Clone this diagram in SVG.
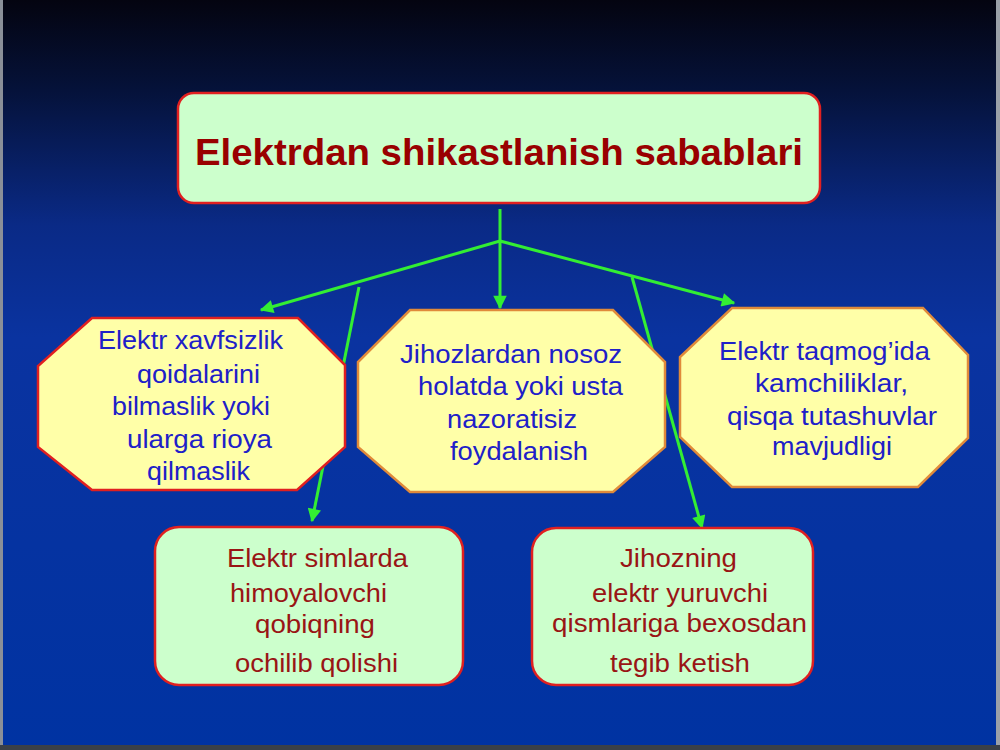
<svg xmlns="http://www.w3.org/2000/svg" width="1000" height="750" viewBox="0 0 1000 750">
  <defs>
    <linearGradient id="bg" x1="0" y1="0" x2="0" y2="1">
      <stop offset="0" stop-color="#040410"/>
      <stop offset="0.12" stop-color="#05123a"/>
      <stop offset="0.3" stop-color="#0a2a86"/>
      <stop offset="0.45" stop-color="#0a33a0"/>
      <stop offset="1" stop-color="#0033a2"/>
    </linearGradient>
    <marker id="arr" viewBox="0 0 10 10" refX="9" refY="5" markerWidth="5" markerHeight="4.5" orient="auto" markerUnits="strokeWidth">
      <path d="M0,0 L10,5 L0,10 z" fill="#33ee33"/>
    </marker>
    <style>
      .conn { stroke: #33ee33; stroke-width: 3; fill: none; }
      .green { fill: #ccffcc; stroke: #e02020; stroke-width: 2.5; }
      .oct { fill: #ffffa8; stroke-width: 2.5; }
      .blue { font-family: "Liberation Sans", Arial, sans-serif; font-size: 26px; fill: #2020c8; }
      .red { font-family: "Liberation Sans", Arial, sans-serif; font-size: 26px; fill: #991515; }
      .title { font-family: "Liberation Sans", Arial, sans-serif; font-size: 37px; font-weight: bold; fill: #990000; }
    </style>
  </defs>

  <rect x="0" y="0" width="1000" height="750" fill="url(#bg)"/>
  <rect x="0" y="0" width="3" height="750" fill="#8a8f98"/>
  <rect x="996" y="0" width="4" height="750" fill="#9aa0a8"/>
  <rect x="0" y="745" width="1000" height="5" fill="#3a4048"/>

  <g id="connectors">
    <line class="conn" x1="500" y1="209" x2="500" y2="241"/>
    <line class="conn" x1="500" y1="241" x2="500" y2="308" marker-end="url(#arr)"/>
    <line class="conn" x1="500" y1="241" x2="261" y2="310" marker-end="url(#arr)"/>
    <line class="conn" x1="500" y1="241" x2="734" y2="303" marker-end="url(#arr)"/>
    <line class="conn" x1="359" y1="287" x2="312" y2="521" marker-end="url(#arr)"/>
    <line class="conn" x1="632" y1="277" x2="702" y2="528" marker-end="url(#arr)"/>
  </g>

  <g id="title">
    <rect class="green" x="178" y="93" width="642" height="110" rx="16" ry="16"/>
    <text class="title" x="195" y="165" textLength="608" lengthAdjust="spacingAndGlyphs">Elektrdan shikastlanish sabablari</text>
  </g>

  <g id="node-left">
    <polygon class="oct" stroke="#e02020" points="92,318 298,318 345,365 345,447 297,490 92,490 38,447 38,366"/>
    <text class="blue" x="98" y="349" textLength="185" lengthAdjust="spacingAndGlyphs">Elektr xavfsizlik</text>
    <text class="blue" x="137" y="383" textLength="123" lengthAdjust="spacingAndGlyphs">qoidalarini</text>
    <text class="blue" x="112" y="415" textLength="158" lengthAdjust="spacingAndGlyphs">bilmaslik yoki</text>
    <text class="blue" x="127" y="448" textLength="145" lengthAdjust="spacingAndGlyphs">ularga rioya</text>
    <text class="blue" x="147" y="480" textLength="103" lengthAdjust="spacingAndGlyphs">qilmaslik</text>
  </g>

  <g id="node-middle">
    <polygon class="oct" stroke="#e08a3a" points="410,310 613,310 665,362 665,447 613,492 410,492 358,447 358,362"/>
    <text class="blue" x="400" y="363" textLength="222" lengthAdjust="spacingAndGlyphs">Jihozlardan nosoz</text>
    <text class="blue" x="418" y="395" textLength="205" lengthAdjust="spacingAndGlyphs">holatda yoki usta</text>
    <text class="blue" x="447" y="428" textLength="130" lengthAdjust="spacingAndGlyphs">nazoratisiz</text>
    <text class="blue" x="450" y="460" textLength="138" lengthAdjust="spacingAndGlyphs">foydalanish</text>
  </g>

  <g id="node-right">
    <polygon class="oct" stroke="#e08a3a" points="732,308 923,308 968,355 968,438 918,487 732,487 680,437 680,357"/>
    <text class="blue" x="719" y="360" textLength="211" lengthAdjust="spacingAndGlyphs">Elektr taqmog’ida</text>
    <text class="blue" x="755" y="392" textLength="153" lengthAdjust="spacingAndGlyphs">kamchiliklar,</text>
    <text class="blue" x="727" y="425" textLength="210" lengthAdjust="spacingAndGlyphs">qisqa tutashuvlar</text>
    <text class="blue" x="772" y="455" textLength="120" lengthAdjust="spacingAndGlyphs">mavjudligi</text>
  </g>

  <g id="node-bottom-left">
    <rect class="green" x="155" y="527" width="308" height="158" rx="24" ry="24"/>
    <text class="red" x="227" y="567" textLength="181" lengthAdjust="spacingAndGlyphs">Elektr simlarda</text>
    <text class="red" x="230" y="602" textLength="157" lengthAdjust="spacingAndGlyphs">himoyalovchi</text>
    <text class="red" x="255" y="633" textLength="120" lengthAdjust="spacingAndGlyphs">qobiqning</text>
    <text class="red" x="235" y="672" textLength="163" lengthAdjust="spacingAndGlyphs">ochilib qolishi</text>
  </g>

  <g id="node-bottom-right">
    <rect class="green" x="532" y="528" width="281" height="157" rx="24" ry="24"/>
    <text class="red" x="620" y="567" textLength="117" lengthAdjust="spacingAndGlyphs">Jihozning</text>
    <text class="red" x="592" y="602" textLength="176" lengthAdjust="spacingAndGlyphs">elektr yuruvchi</text>
    <text class="red" x="552" y="632" textLength="255" lengthAdjust="spacingAndGlyphs">qismlariga bexosdan</text>
    <text class="red" x="610" y="672" textLength="140" lengthAdjust="spacingAndGlyphs">tegib ketish</text>
  </g>
</svg>
